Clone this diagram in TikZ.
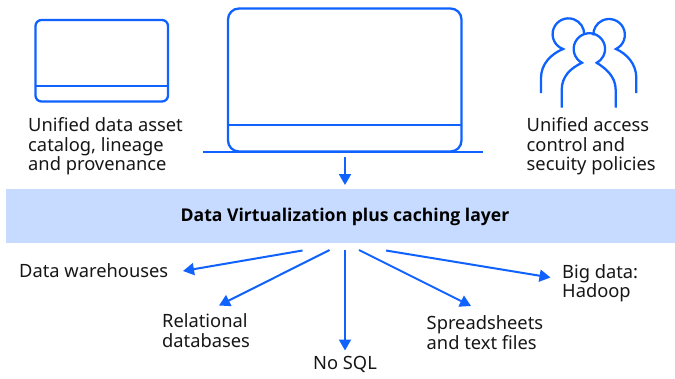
\documentclass[tikz,border=0pt]{standalone}
\usepackage{fontspec}
\setmainfont{Noto Sans}
\newfontfamily\bandfont{Open Sans}
\usetikzlibrary{arrows.meta}
\definecolor{ibmblue}{HTML}{0F62FE}
\definecolor{bandblue}{HTML}{C6DBFF}
\definecolor{ink}{HTML}{161616}
\tikzset{
  shapeline/.style={draw=ibmblue,line width=2.3pt},
  linkarrow/.style={draw=ibmblue,line width=2pt,-{Triangle[length=11pt,width=12pt]}},
  caption/.style={inner sep=0pt,anchor=north west,align=left,text=ink,font=\fontsize{18.3}{19.5}\selectfont},
  bandlabel/.style={inner sep=0pt,text=black,font=\fontsize{17.6}{19.5}\selectfont\bandfont\bfseries}
}
\begin{document}
\begin{tikzpicture}[x=1pt,y=-1pt]
\useasboundingbox (0,0) rectangle (675,378);
% band
\fill[bandblue] (6,189.3) rectangle (675,243);
\node[bandlabel] (band) at (345,216.5) {Data Virtualization plus caching layer};
% catalog icon
\draw[shapeline,rounded corners=6pt] (35.5,20) rectangle (168,101.5);
\draw[shapeline] (35,86.3) -- (168.5,86.3);
% main screen
\draw[shapeline,rounded corners=11pt] (228,8.5) rectangle (461.5,151.5);
\draw[shapeline] (228,125) -- (461.5,125);
\draw[shapeline] (203,151.8) -- (483,151.8);
% people icon
\draw[shapeline] (541,93) -- (541,78) .. controls (541,64) and (551,54) .. (563,49)
  arc[start angle=110,end angle=362,radius=15.8];
\draw[shapeline] (636.3,93) -- (636.3,78) .. controls (636.3,64) and (627,54) .. (616,49)
  arc[start angle=64,end angle=-182,radius=15.8];
\draw[shapeline] (561.7,107.5) -- (561.7,90) .. controls (561.7,76) and (571,68) .. (582,62.8)
  arc[start angle=118,end angle=422,radius=15.7]
  .. controls (605,68) and (615.7,76) .. (615.7,90) -- (615.7,107.5);
% captions
\node[caption] (catalog) at (28,117.5) {Unified data asset\\catalog, lineage\\and provenance};
\node[caption] (access) at (526.5,117.5) {Unified access\\control and\\secuity policies};
\node[caption] (warehouses) at (19,263) {Data warehouses};
\node[caption] (relational) at (162,313.5) {Relational\\databases};
\node[caption] (nosql) at (313,356) {No SQL};
\node[caption] (sheets) at (426.5,315.7) {Spreadsheets\\and text files};
\node[caption] (bigdata) at (562,264) {Big data:\\Hadoop};
% connector ends
\coordinate (top) at (345,157);
\coordinate (topend) at (345,185);
\coordinate (s1) at (302.5,250.5);
\coordinate (e1) at (183,271);
\coordinate (s2) at (329.5,250);
\coordinate (e2) at (219,305.5);
\coordinate (s3) at (345,250);
\coordinate (e3) at (345,350.5);
\coordinate (s4) at (359,250);
\coordinate (e4) at (471,306);
\coordinate (s5) at (386,250.5);
\coordinate (e5) at (550.5,277.5);
\draw[linkarrow] (top) -- (topend);
\draw[linkarrow] (s1) -- (e1);
\draw[linkarrow] (s2) -- (e2);
\draw[linkarrow] (s3) -- (e3);
\draw[linkarrow] (s4) -- (e4);
\draw[linkarrow] (s5) -- (e5);
\end{tikzpicture}
\end{document}
